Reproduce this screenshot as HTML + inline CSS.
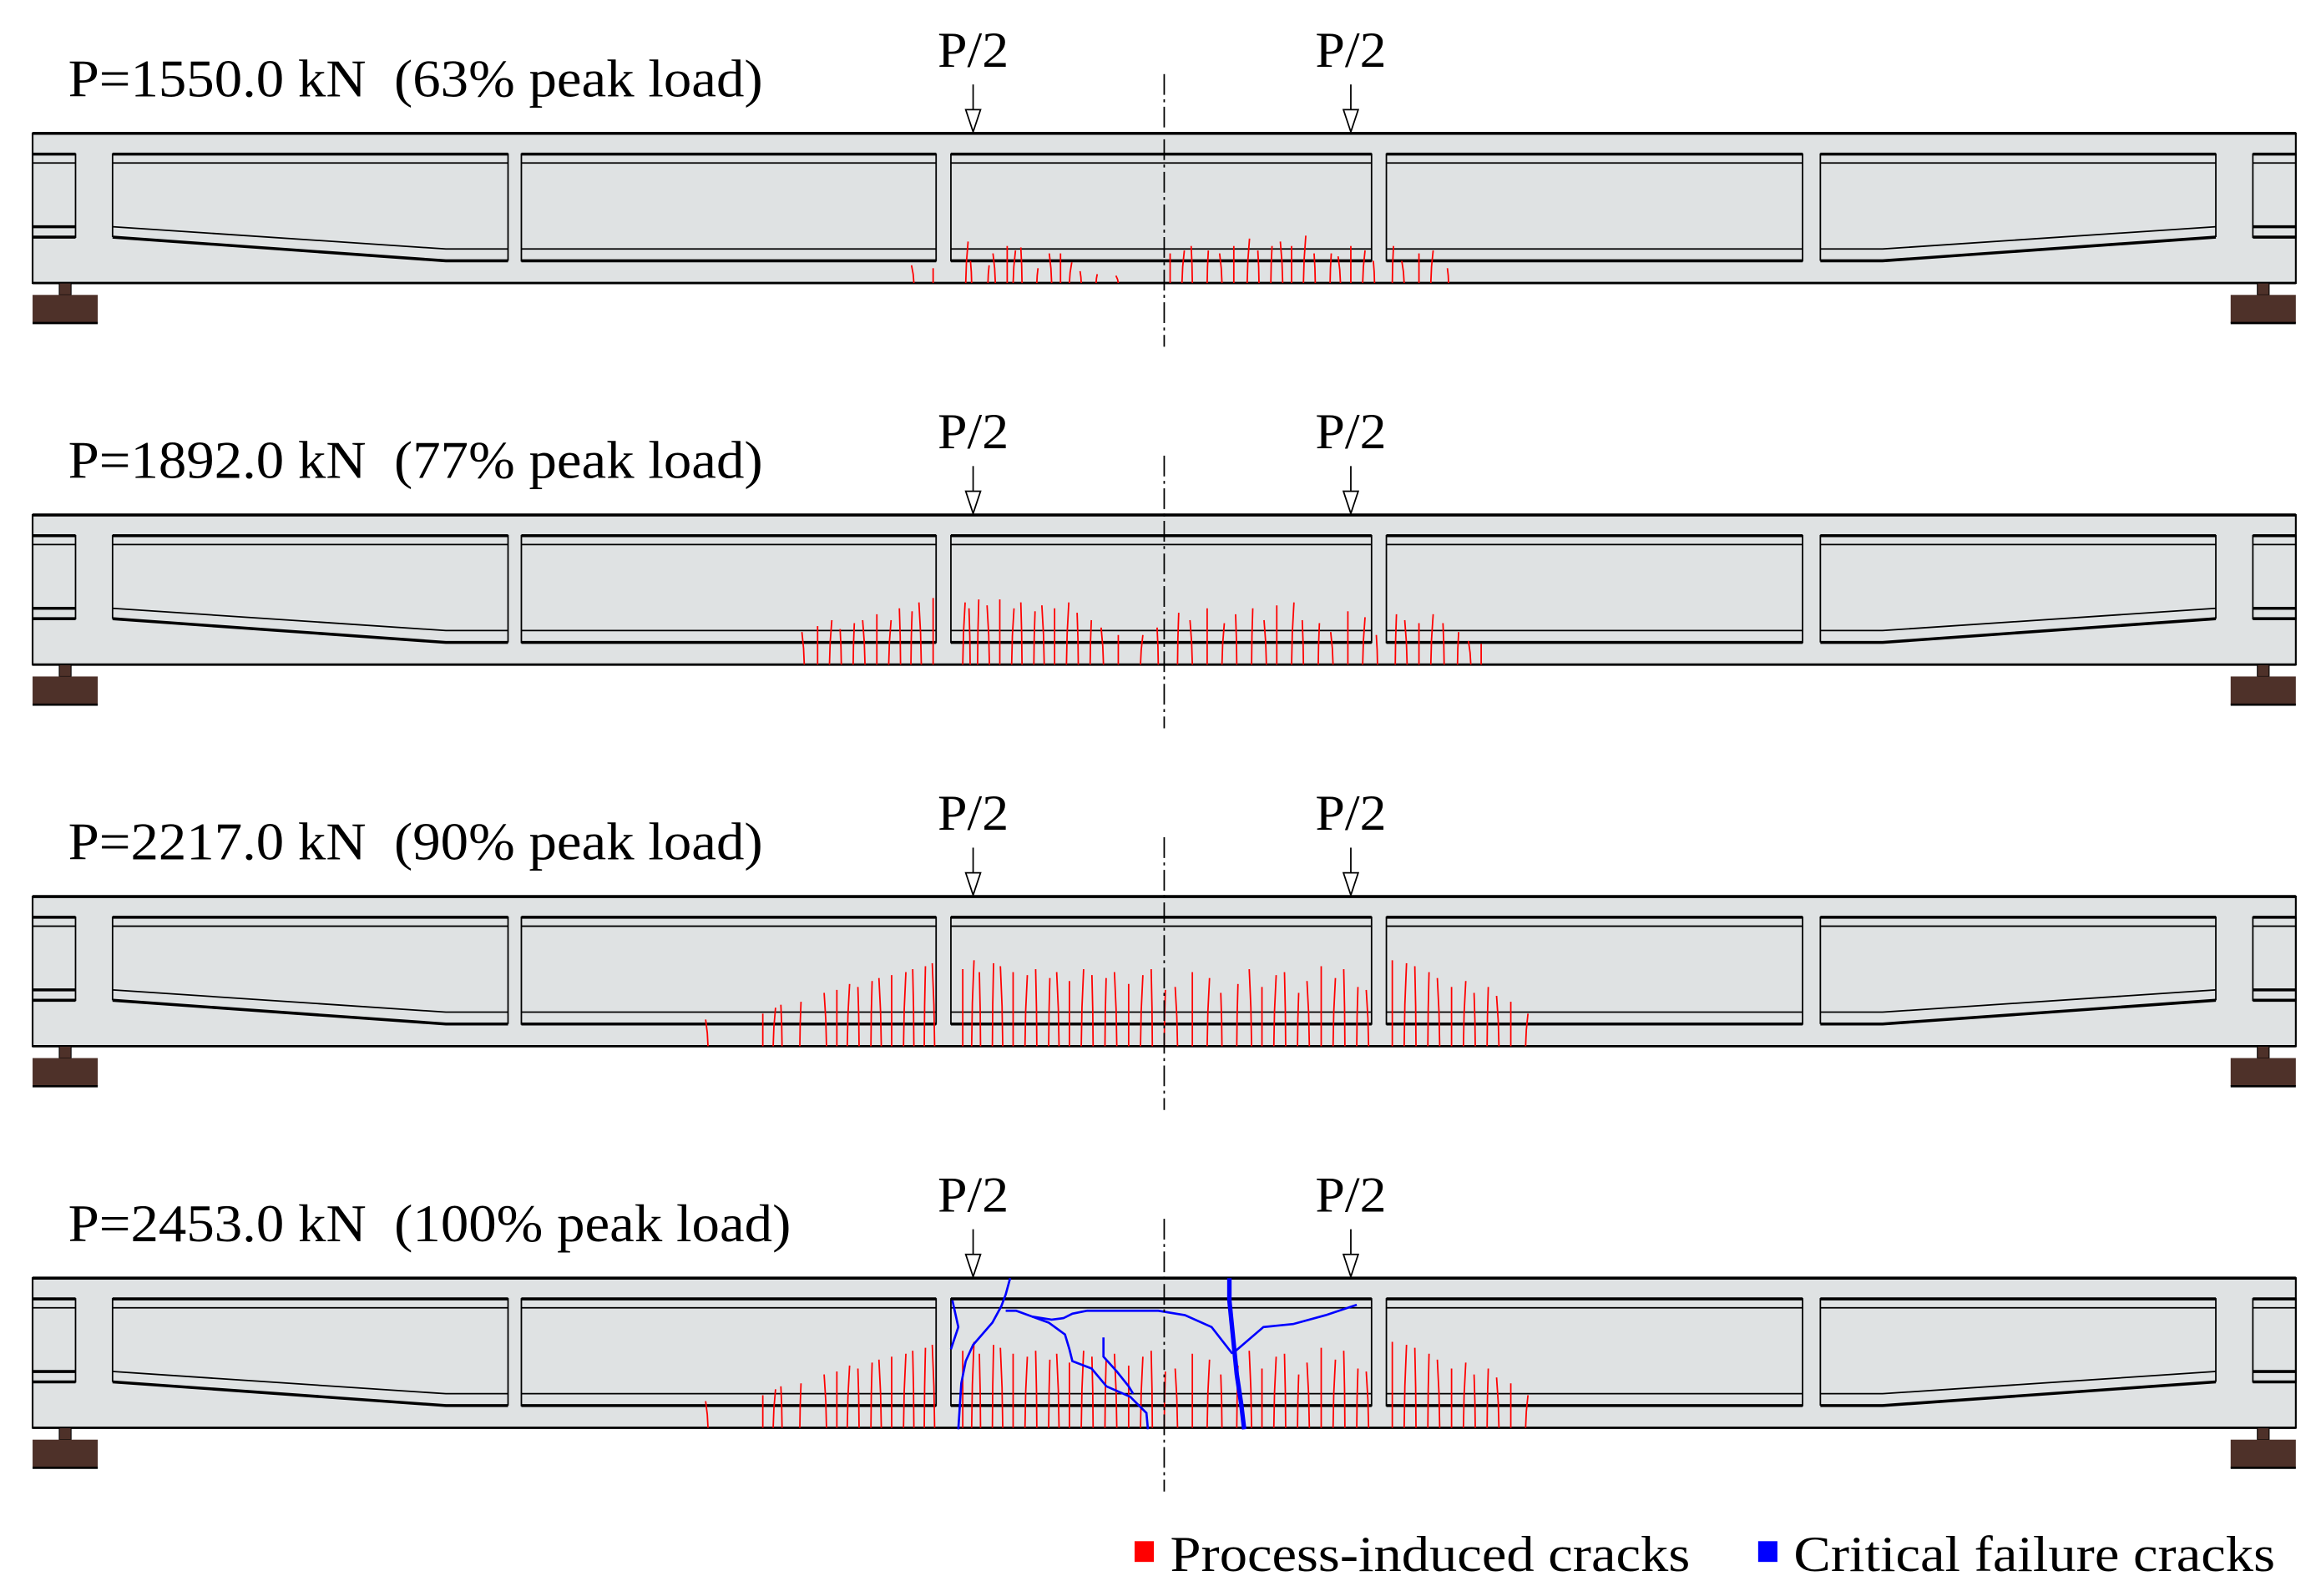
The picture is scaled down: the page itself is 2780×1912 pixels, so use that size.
<!DOCTYPE html>
<html><head><meta charset="utf-8"><style>
html,body{margin:0;padding:0;background:#fff;}
svg{display:block;}
text{font-family:"Liberation Serif",serif;fill:#000;}
</style></head><body>
<svg id="fig" width="2780" height="1912" viewBox="0 0 1567 1077" preserveAspectRatio="none" xmlns="http://www.w3.org/2000/svg"></svg>
<script>
// ---- data ----
const panelTitles = ["P=1550.0 kN\u00a0\u00a0(63% peak load)","P=1892.0 kN\u00a0\u00a0(77% peak load)","P=2217.0 kN\u00a0\u00a0(90% peak load)","P=2453.0 kN\u00a0\u00a0(100% peak load)"];
const cracksX1 = [617,630,652,656,667,672,680,684,690,700,710,716,722,730,740,755,790,798,805,815,825,833,842,850,858,866,872,880,888,898,905,912,920,928,940,948,958,966,978];
const cracksH1 = [12,10,28,15,12,20,25,22,24,10,20,20,14,8,6,5,20,22,25,22,20,25,30,22,25,28,25,32,20,20,18,25,22,15,25,15,20,22,10];
const cracksX2 = [543,552,560,568,576,584,592,600,608,615,622,630,650,655,660,668,675,683,690,698,705,712,720,728,736,745,755,770,782,795,805,815,825,835,845,855,862,872,880,890,900,910,920,930,942,950,958,966,975,984,993,1000];
const cracksH2 = [22,26,30,24,28,30,34,30,38,36,42,45,42,38,44,40,44,38,42,36,40,38,42,35,30,25,20,20,25,35,30,38,28,34,38,30,40,42,30,28,22,36,32,20,34,30,28,34,28,22,16,14];
const cracksX3 = [478,515,522,528,540,558,565,572,580,588,595,602,610,617,624,631,650,656,662,670,677,684,692,700,708,715,722,730,738,746,754,762,770,778,786,795,805,815,825,835,845,852,860,868,876,884,892,900,908,916,924,940,948,956,964,972,980,988,996,1004,1012,1020,1030];
const cracksH3 = [18,22,26,28,30,36,38,42,40,44,46,48,50,52,54,56,52,58,50,56,54,50,48,52,46,50,44,52,48,46,50,42,48,52,38,40,50,46,36,42,52,40,48,50,36,44,54,46,52,40,38,58,56,54,50,46,40,44,36,40,34,30,22];
const cracksX4 = cracksX3;
const cracksH4 = cracksH3;
const crackXs = [cracksX1,cracksX2,cracksX3,cracksX4];
const crackHs = [cracksH1,cracksH2,cracksH3,cracksH4];
// blue failure cracks in panel 4 (x, depth below beam top)
const blueMain = [[830,-5],[830,10],[833,40],[835,60],[838,80],[840,97]];
const blueRight = [[832,46],[853,28],[873,26],[895,20],[916,13]];
const blueLeft = [[832,46],[818,28],[800,20],[782,17],[734,17],[724,19],[718,22],[710,23],[697,21],[686,17],[679,17]];
const blueLeftDown = [[682,-5],[679,6],[676,14],[670,25],[657,40],[652,51],[649,66],[647,97]];
const blueShort = [[643,10],[647,28],[642,43]];
const blueDiag = [[697,21],[708,25],[719,33],[722,43],[724,51],[737,56],[747,68],[763,75],[774,86],[775,97]];
const blueDiag2 = [[745,35],[745,48],[754,58],[762,68],[765,73]];

// ---- drawing ----
const svg = document.getElementById('fig');
const NS = 'http://www.w3.org/2000/svg';
function mk(tag, attrs, parent){const e=document.createElementNS(NS,tag);for(const k in attrs)e.setAttribute(k,attrs[k]);(parent||svg).appendChild(e);return e;}
const PANEL_DY = 257.5, BEAM_TOP = 90, BEAM_BOT = 191;

for(let p=0;p<4;p++){
  const dy = p*PANEL_DY;
  const g = mk('g',{transform:`translate(0,${dy})`});
  
  
  const t = mk('text',{x:46,y:65,'font-size':36,textLength:(p==3?488:469),lengthAdjust:'spacingAndGlyphs'},g);
  t.textContent = panelTitles[p];
  
  
  const b = mk('rect',{x:22,y:BEAM_TOP,width:1528,height:BEAM_BOT-BEAM_TOP,fill:'#dfe2e3',stroke:'#000','stroke-width':1.2},g);
  
  
  mk('line',{x1:22,y1:BEAM_TOP,x2:1550,y2:BEAM_TOP,stroke:'#000','stroke-width':2},g);
  mk('line',{x1:22,y1:BEAM_BOT,x2:1550,y2:BEAM_BOT,stroke:'#000','stroke-width':1.6},g);
  const ops = [[352,632],[642,926],[936,1217]];
  ops.forEach(o=>{
    mk('rect',{x:o[0],y:104,width:o[1]-o[0],height:72,fill:'none',stroke:'#000','stroke-width':1},g);
    mk('line',{x1:o[0],y1:104,x2:o[1],y2:104,stroke:'#000','stroke-width':2},g);
    mk('line',{x1:o[0],y1:110,x2:o[1],y2:110,stroke:'#000','stroke-width':1},g);
    mk('line',{x1:o[0],y1:168,x2:o[1],y2:168,stroke:'#000','stroke-width':1},g);
    mk('line',{x1:o[0],y1:176,x2:o[1],y2:176,stroke:'#000','stroke-width':2},g);
  });
  [[1,76,343,301],[-1,1496,1229,1271]].forEach(s=>{
    const [d,xa,xb,xk]=s;
    mk('polyline',{points:`${xa},160 ${xa},104 ${xb},104 ${xb},176`,fill:'none',stroke:'#000','stroke-width':1},g);
    mk('line',{x1:xa,y1:104,x2:xb,y2:104,stroke:'#000','stroke-width':2},g);
    mk('polyline',{points:`${xa},110 ${xb},110`,fill:'none',stroke:'#000','stroke-width':1},g);
    mk('polyline',{points:`${xa},153 ${xk},168 ${xb},168`,fill:'none',stroke:'#000','stroke-width':1},g);
    mk('polyline',{points:`${xa},160 ${xk},176 ${xb},176`,fill:'none',stroke:'#000','stroke-width':2},g);
  });
  [[22,51],[1521,1550]].forEach(e=>{
    mk('rect',{x:e[0],y:104,width:e[1]-e[0],height:56,fill:'none',stroke:'#000','stroke-width':1},g);
    mk('line',{x1:e[0],y1:104,x2:e[1],y2:104,stroke:'#000','stroke-width':2},g);
    mk('line',{x1:e[0],y1:110,x2:e[1],y2:110,stroke:'#000','stroke-width':1},g);
    mk('line',{x1:e[0],y1:153,x2:e[1],y2:153,stroke:'#000','stroke-width':2},g);
    mk('line',{x1:e[0],y1:160,x2:e[1],y2:160,stroke:'#000','stroke-width':2},g);
  });
  [[22,66],[1506,1550]].forEach((s,i)=>{
    const c=(s[0]+s[1])/2;
    mk('rect',{x:c-4,y:BEAM_BOT,width:8,height:8,fill:'#4e3129',stroke:'#000','stroke-width':0.6},g);
    const r=mk('rect',{x:s[0],y:199,width:s[1]-s[0],height:19,fill:'#4e3129'},g);
    
    
    mk('line',{x1:s[0],y1:218,x2:s[1],y2:218,stroke:'#000','stroke-width':1.5},g);
  });
  const xs=crackXs[p], hs=crackHs[p];
  xs.forEach((x,i)=>{
    const h=hs[i], w=((i*7)%5-2)*0.8;
    const pts=[[x,BEAM_BOT],[x+w*0.3,BEAM_BOT-h*0.5],[x+w,BEAM_BOT-h]];
    const l=mk('polyline',{points:pts.map(q=>q.join(',')).join(' '),fill:'none',stroke:'#ff0000','stroke-width':1},g);
    
    
  });
  if(p==3){
    [[blueMain,3],[blueRight,1.5],[blueLeft,1.5],[blueLeftDown,1.5],[blueShort,1.5],[blueDiag,1.5],[blueDiag2,1.5]].forEach(bc=>{
      const l=mk('polyline',{points:bc[0].map(q=>q[0]+','+(BEAM_TOP+5+q[1])).join(' '),fill:'none',stroke:'#0000ff','stroke-width':bc[1]},g);
      
      
    });
  }
  const cl=mk('line',{x1:786,y1:50,x2:786,y2:234,stroke:'#000','stroke-width':1,'stroke-dasharray':'14 3 2 3'},g);
  
  
  [657,912].forEach(x=>{
    mk('line',{x1:x,y1:57,x2:x,y2:74,stroke:'#000','stroke-width':1},g);
    const a=mk('polygon',{points:`${x-5},74 ${x+5},74 ${x},89`,fill:'#fff',stroke:'#000','stroke-width':1},g);
    
    
    const tt=mk('text',{x:x,y:45,'font-size':34,'text-anchor':'middle',textLength:48,lengthAdjust:'spacingAndGlyphs'},g);
    tt.textContent='P/2';
    
    
  });
}
const lg=mk('g',{});


mk('rect',{x:766,y:1040,width:13,height:14,fill:'#ff0000'},lg);
const l1=mk('text',{x:790,y:1060,'font-size':34,textLength:351,lengthAdjust:'spacingAndGlyphs'},lg);
l1.textContent='Process-induced cracks';


mk('rect',{x:1187,y:1040,width:13,height:14,fill:'#0000ff'},lg);
const l2=mk('text',{x:1211,y:1060,'font-size':34,textLength:325,lengthAdjust:'spacingAndGlyphs'},lg);
l2.textContent='Critical failure cracks';


</script>
</body></html>
